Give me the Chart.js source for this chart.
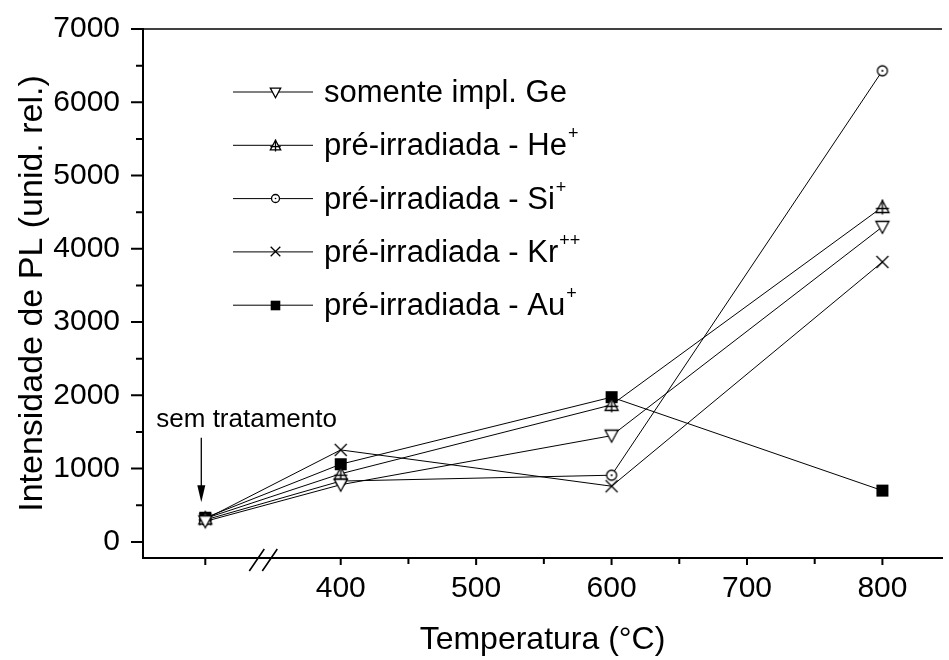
<!DOCTYPE html>
<html><head><meta charset="utf-8">
<script src="https://cdn.jsdelivr.net/npm/chart.js@4.4.1/dist/chart.umd.min.js"></script>
<style>html,body{margin:0;padding:0;background:#fff;}canvas{display:block;}</style>
</head><body>
<canvas id="c" width="949" height="660"></canvas>
<script>
// ---- data ----
const temperatures = [300, 400, 600, 800];
const seriesLabels = ['somente impl. Ge', 'pré-irradiada - He+', 'pré-irradiada - Si+', 'pré-irradiada - Kr++', 'pré-irradiada - Au+'];
const geValues = [280, 780, 1450, 4300];
const heValues = [320, 930, 1870, 4570];
const siValues = [300, 830, 910, 6430];
const krValues = [310, 1255, 760, 3820];
const auValues = [330, 1060, 1975, 700];
const xTickValues = [300, 400, 500, 600, 700, 800];
const xTickLabels = ['', '400', '500', '600', '700', '800'];
const xMinorTicks = [450, 550, 650, 750];
const yTickValues = [0, 1000, 2000, 3000, 4000, 5000, 6000, 7000];
const yMinorTicks = [500, 1500, 2500, 3500, 4500, 5500, 6500];
const annotationText = 'sem tratamento';
const xTitle = 'Temperatura (°C)';
const yTitle = 'Intensidade de PL (unid. rel.)';

const FONT = "'Liberation Sans', Arial, sans-serif";

function makeMarker(kind, s) {
  const size = Math.ceil(18 * s) + 2;
  const c = document.createElement('canvas');
  c.width = c.height = size;
  const g = c.getContext('2d');
  g.translate(size / 2, size / 2);
  g.scale(s, s);
  g.lineWidth = 1.3 / Math.max(s, 0.8);
  g.strokeStyle = '#000';
  g.fillStyle = '#fff';
  if (kind === 'down') {
    g.beginPath(); g.moveTo(-6.5, -5.5); g.lineTo(6.5, -5.5); g.lineTo(0, 6.5); g.closePath(); g.fill(); g.stroke();
  } else if (kind === 'upCross') {
    g.beginPath(); g.moveTo(0, -6.5); g.lineTo(6.5, 5.5); g.lineTo(-6.5, 5.5); g.closePath(); g.fill(); g.stroke();
    g.beginPath(); g.moveTo(0, -7.5); g.lineTo(0, 7.5); g.moveTo(-6.5, 1.5); g.lineTo(6.5, 1.5); g.stroke();
  } else if (kind === 'circleDot') {
    g.beginPath(); g.arc(0, 0, 5, 0, Math.PI * 2); g.fill(); g.stroke();
    g.fillStyle = '#000'; g.beginPath(); g.arc(0, 0, 1, 0, Math.PI * 2); g.fill();
  } else if (kind === 'x') {
    g.beginPath(); g.moveTo(-6, -6); g.lineTo(6, 6); g.moveTo(-6, 6); g.lineTo(6, -6); g.stroke();
  } else if (kind === 'square') {
    g.fillStyle = '#000'; g.fillRect(-6, -6, 12, 12);
  }
  return c;
}
const kinds = ['down', 'upCross', 'circleDot', 'x', 'square'];
const markers = kinds.map(k => makeMarker(k, 1));
const legendMarkers = kinds.map(k => makeMarker(k, 0.8));

const seriesValues = [geValues, heValues, siValues, krValues, auValues];
const datasets = seriesValues.map((vals, i) => ({
  label: seriesLabels[i],
  data: temperatures.map((t, j) => ({x: t, y: vals[j]})),
  borderColor: '#000',
  borderWidth: 1,
  backgroundColor: '#fff',
  pointStyle: markers[i],
  pointRadius: 6,
  pointHoverRadius: 6,
  showLine: true,
  tension: 0,
  clip: false
}));

const decor = {
  id: 'decor',
  afterDraw(chart) {
    const ctx = chart.ctx;
    const xs = chart.scales.x, ys = chart.scales.y;
    const ca = chart.chartArea;
    ctx.save();
    ctx.strokeStyle = '#000';
    ctx.fillStyle = '#000';
    // top frame line
    ctx.lineWidth = 1.5;
    ctx.beginPath(); ctx.moveTo(ca.left, ca.top); ctx.lineTo(ca.right, ca.top); ctx.stroke();
    // y ticks
    ctx.lineWidth = 2;
    ctx.beginPath();
    yTickValues.forEach(v => { const p = ys.getPixelForValue(v); ctx.moveTo(ca.left - 12, p); ctx.lineTo(ca.left, p); });
    yMinorTicks.forEach(v => { const p = ys.getPixelForValue(v); ctx.moveTo(ca.left - 7, p); ctx.lineTo(ca.left, p); });
    // x ticks
    xTickValues.forEach(v => { const p = xs.getPixelForValue(v); ctx.moveTo(p, ca.bottom); ctx.lineTo(p, ca.bottom + 7); });
    xMinorTicks.forEach(v => { const p = xs.getPixelForValue(v); ctx.moveTo(p, ca.bottom); ctx.lineTo(p, ca.bottom + 6); });
    ctx.stroke();
    // axis break
    const bx = xs.getPixelForValue(300);
    ctx.lineWidth = 1.6;
    ctx.beginPath();
    ctx.moveTo(bx + 44, ca.bottom + 13); ctx.lineTo(bx + 59, ca.bottom - 9);
    ctx.moveTo(bx + 57, ca.bottom + 13); ctx.lineTo(bx + 72, ca.bottom - 9);
    ctx.stroke();
    // annotation arrow
    const ax = xs.getPixelForValue(300) - 4;
    const yTop = ys.getPixelForValue(1420), yTip = ys.getPixelForValue(540);
    ctx.lineWidth = 1.3;
    ctx.beginPath(); ctx.moveTo(ax, yTop); ctx.lineTo(ax, yTip - 12); ctx.stroke();
    ctx.beginPath(); ctx.moveTo(ax - 4, yTip - 17); ctx.lineTo(ax + 4, yTip - 17); ctx.lineTo(ax, yTip); ctx.closePath(); ctx.fill();
    ctx.font = '26px ' + FONT;
    ctx.textBaseline = 'alphabetic';
    ctx.textAlign = 'left';
    ctx.fillText(annotationText, ax - 45, yTop - 11);
    // legend
    const rowY0 = 92, rowStep = 53.3;
    seriesLabels.forEach((lab, i) => {
      const y = rowY0 + i * rowStep;
      ctx.lineWidth = 1;
      ctx.beginPath(); ctx.moveTo(233, y); ctx.lineTo(313, y); ctx.stroke();
      const m = legendMarkers[i];
      ctx.drawImage(m, Math.round(275 - m.width / 2), Math.round(y - m.height / 2));
      const mt = lab.match(/^(.*?)(\++)$/);
      const base = mt ? mt[1] : lab, sup = mt ? mt[2] : '';
      ctx.font = '31px ' + FONT;
      ctx.textAlign = 'left';
      ctx.textBaseline = 'alphabetic';
      ctx.fillText(base, 324, y + 10);
      if (sup) {
        const w = ctx.measureText(base).width;
        ctx.font = '18px ' + FONT;
        ctx.fillText(sup, 324 + w + 1, y - 6);
      }
    });
    ctx.restore();
  }
};

new Chart(document.getElementById('c'), {
  type: 'scatter',
  data: {datasets},
  options: {
    responsive: false,
    animation: false,
    devicePixelRatio: 1,
    events: [],
    layout: {padding: {top: 29, right: 0, left: 0, bottom: 0}},
    plugins: {legend: {display: false}, tooltip: {enabled: false}},
    scales: {
      x: {
        type: 'linear', position: 'bottom', min: 254, max: 844,
        afterBuildTicks: s => { s.ticks = xTickValues.map(v => ({value: v})); },
        afterFit: s => { s.height = 102; s.paddingLeft = 0; s.paddingRight = 0; },
        grid: {display: false, drawTicks: false},
        border: {display: true, color: '#000', width: 2},
        ticks: {
          padding: 16, color: '#000', font: {family: FONT, size: 30, lineHeight: 1},
          maxRotation: 0, autoSkip: false,
          callback: (v) => { const i = xTickValues.indexOf(v); return i >= 0 ? xTickLabels[i] : ''; }
        },
        title: {display: true, text: xTitle, color: '#000', font: {family: FONT, size: 32, lineHeight: 1}, padding: {top: 0, bottom: 4}}
      },
      y: {
        type: 'linear', position: 'left', min: -220, max: 7000,
        afterBuildTicks: s => { s.ticks = yTickValues.map(v => ({value: v})); },
        afterFit: s => { s.width = 143; s.paddingTop = 0; s.paddingBottom = 0; },
        grid: {display: false, drawTicks: false},
        border: {display: true, color: '#000', width: 2},
        ticks: {padding: 23, color: '#000', font: {family: FONT, size: 30, lineHeight: 1}, callback: v => String(v)},
        title: {display: true, text: yTitle, color: '#000', font: {family: FONT, size: 34, lineHeight: 1}, padding: {top: 16, bottom: 0}}
      }
    }
  },
  plugins: [decor]
});
</script>
</body></html>
